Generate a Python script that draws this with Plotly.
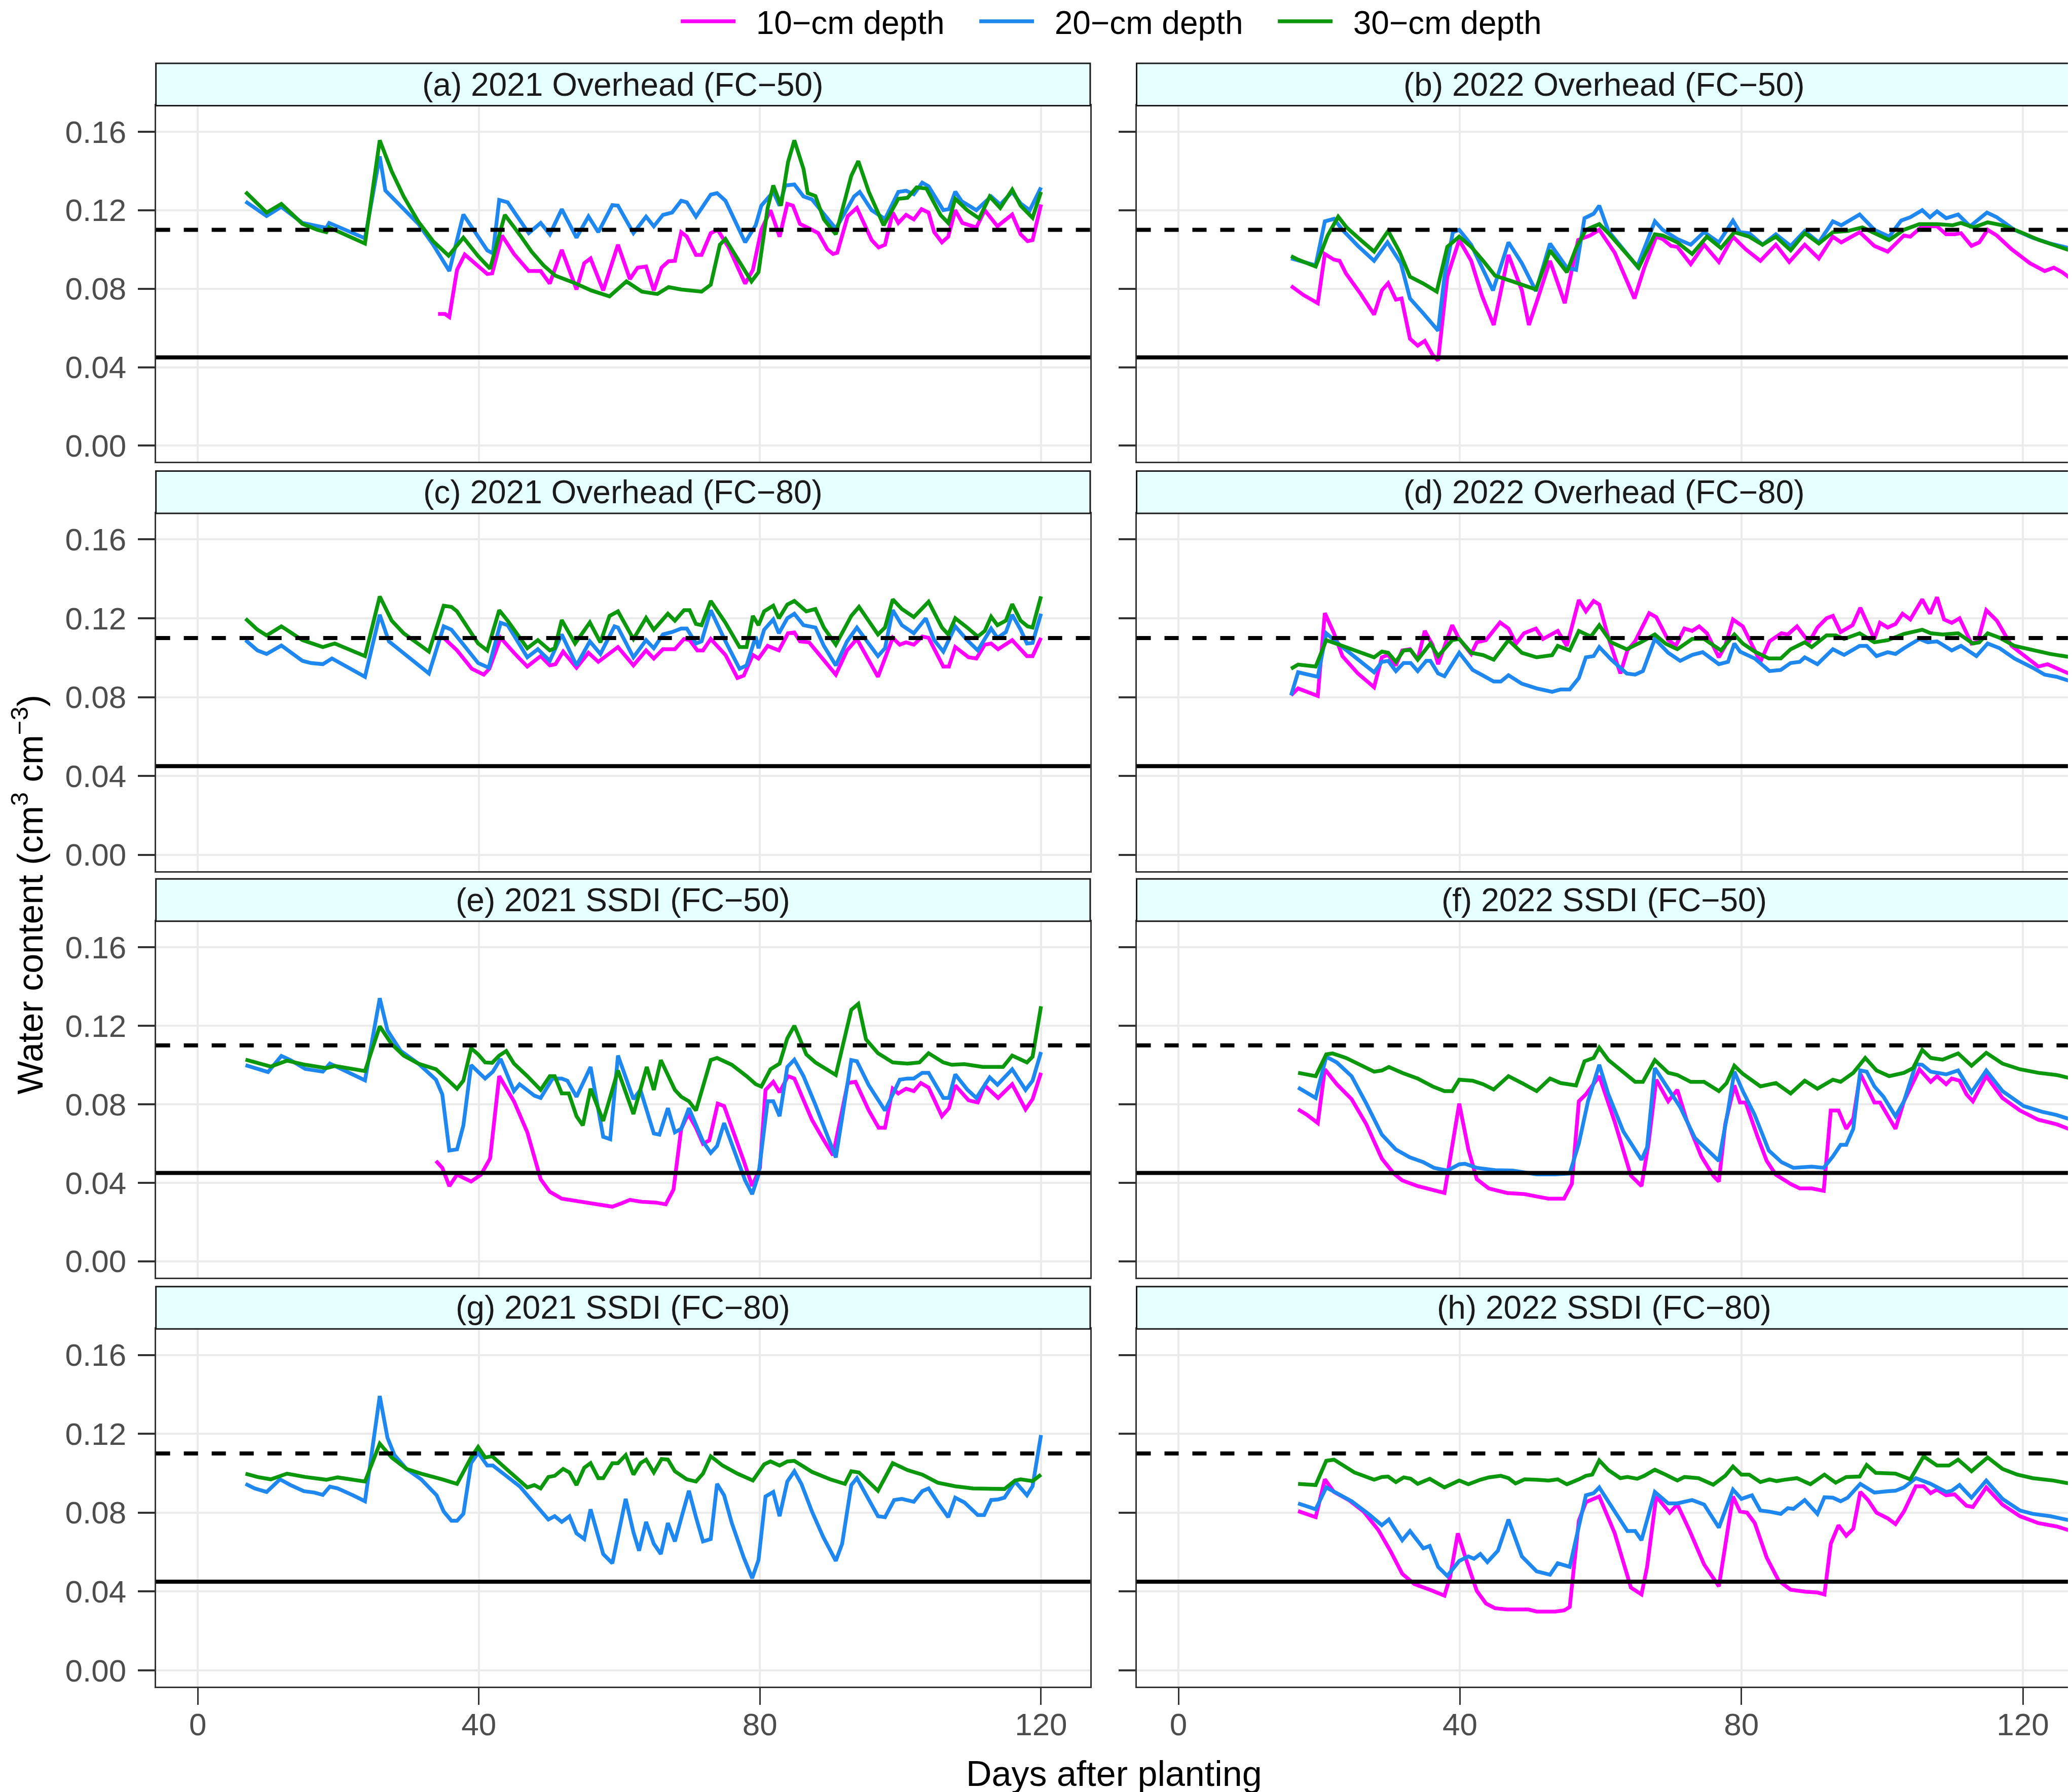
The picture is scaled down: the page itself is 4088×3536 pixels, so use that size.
import plotly.graph_objects as go
from plotly.subplots import make_subplots

# ---- data (days after planting, water content cm3/cm3) ----
FC_LEVEL = 0.11     # dashed line
MAD_LEVEL = 0.045   # solid line

# (a) 2021 Overhead (FC-50)
a_day10 = [34.2,35.2,35.8,36.9,38,39.5,41.2,41.9,43.3,45,47.1,48.8,50.1,51.8,53.9,55,55.9,57.7,59.8,61.5,62.6,63.8,64.9,66,67,67.9,68.8,69.6,70.9,71.7,73,74,75.6,77.9,79,80.2,81.5,82.8,83.9,84.7,85.7,87.4,88.3,89.6,90.4,91,92.5,93.8,95.9,96.9,97.8,98.9,99.7,100.8,101.9,103,104,104.8,105.9,106.8,107.8,108.8,110.8,112,113.8,115.9,117.1,118.1,118.8,120]
a_wc10 = [.0671,.0671,.0656,.0896,.0974,.0925,.0875,.0878,.1071,.0977,.089,.089,.0826,.0998,.0796,.093,.0954,.0791,.1024,.0849,.0907,.0913,.0791,.0907,.094,.0942,.1088,.1065,.0972,.0972,.1083,.11,.1007,.0826,.0896,.11,.12,.1065,.1232,.1223,.113,.11,.1083,.1001,.0977,.0983,.117,.1211,.1048,.101,.1024,.1188,.1135,.1176,.1153,.1205,.1188,.1088,.1036,.1065,.12,.1135,.1112,.12,.1118,.1178,.1077,.1042,.1048,.1229]
a_day20 = [6.8,9.8,11.9,14.9,18.3,18.7,23.8,25.9,26.7,28.9,31.4,33.5,35.8,37.8,39.9,41.2,42,42.9,44.1,47.1,48.8,50.1,51.8,53.9,55.6,57,59,59.8,62,63.8,64.9,66.2,67.5,68.8,69.6,70.9,73,73.9,75.1,77.9,79.4,80.2,81.9,82.8,83.6,84.9,86.2,87.4,90.8,93.4,94.2,95.9,97.8,99.7,100.8,101.9,103.1,104,106.1,106.9,107.8,108.7,110.8,112,112.9,114.2,115.9,117.1,118.4,120]
a_wc20 = [.1244,.117,.1217,.1135,.111,.1135,.1057,.1474,.130,.122,.113,.1024,.089,.1178,.106,.0995,.098,.1252,.124,.1083,.1135,.1077,.1205,.106,.1168,.1088,.1226,.1223,.1083,.1167,.1118,.1176,.1188,.1248,.124,.1167,.1279,.1287,.1248,.1036,.1123,.1223,.1293,.1223,.1326,.1331,.127,.1255,.1106,.127,.1293,.12,.1155,.1293,.1299,.1281,.134,.1322,.12,.1205,.1295,.1246,.12,.124,.127,.1229,.1293,.1234,.12,.1316]
a_day30 = [6.8,9.8,11.9,14.9,17,18.3,18.7,23.8,25.9,27.6,29.3,31.4,33.5,35.7,37.8,39.9,41.6,43.7,45.9,47.5,49.2,50.9,53.5,56,58.6,61,63.2,65.4,67,68.8,71.7,73,74.3,75.1,76.4,78.8,79.8,81.1,81.9,83,84,84.9,86.2,86.8,87.9,89.1,90.8,93,94,95.5,97.6,99.7,101,102.3,103.7,105.7,106.8,107.8,109.5,111.2,112.7,114.2,115.9,117.1,118.8,120]
a_wc30 = [.1293,.1188,.1232,.113,.110,.1088,.1112,.103,.1556,.1398,.127,.1141,.1042,.0968,.106,.0966,.0902,.1176,.1071,.0989,.0919,.0866,.0831,.0791,.0761,.0837,.0785,.0773,.0808,.0796,.0785,.082,.1024,.1053,.0977,.0837,.0884,.1211,.1326,.1223,.1445,.1556,.141,.1287,.1272,.1153,.1077,.1375,.145,.1293,.1123,.1258,.1263,.1316,.131,.1176,.1135,.1258,.12,.1158,.127,.1211,.1305,.1223,.1161,.1293]

# (b) 2022 Overhead (FC-50)
b_day10 = [16,17.8,19.8,20.8,22.1,22.9,23.8,25.9,27.8,28.9,29.8,30.9,31.7,32.9,34,35,36.1,36.9,38.2,39.9,41.6,43.1,44.8,46.9,48.8,49.8,50.9,52.8,54.9,56.8,58.5,59.8,62,64.8,66.2,67.9,68.8,70,70.9,72.8,74.7,76.8,78.8,80.6,82.7,84.9,86.8,89,91,93,94.2,96.8,98.9,100.8,103.1,104,105.7,107.8,109.1,110.3,111.2,112.7,113.8,115,116.3,118.4,121,123.1,124.4,125.6,126.9]
b_wc10 = [.0814,.0767,.0726,.0977,.0948,.0942,.0878,.0773,.0668,.0791,.0828,.0744,.075,.0545,.051,.0534,.0464,.0434,.0861,.1048,.0942,.0767,.0615,.0972,.0791,.0615,.0732,.0942,.0726,.1048,.1071,.11,.0983,.075,.0907,.1065,.1053,.1018,.1013,.0925,.1024,.0936,.1065,.1001,.0942,.1024,.0936,.1024,.0954,.1065,.1036,.1088,.1018,.0989,.1071,.1065,.1118,.1118,.1077,.1077,.1083,.1018,.1036,.11,.1071,.1001,.093,.089,.0907,.0884,.0849]
b_day20 = [16,19.5,20.8,22.1,23.3,25.5,27.8,29.7,31.6,32.9,34.8,36.5,36.9,37.8,39,39.9,41.6,43.3,44.7,46.9,48.8,50.8,52.8,55.2,56.5,57.7,59,59.8,61.1,65.2,67.7,68.8,70.9,72.8,74.7,76.8,78.8,79.8,81.1,83,84.9,87,89,91,93,94.2,96.8,98.9,101,102.7,104,105.7,106.8,107.8,109.1,110.8,112.5,114.9,116.3,118.8,121.4,123.9,126.5]
b_wc20 = [.0954,.0919,.1143,.1156,.11,.1018,.0942,.1036,.093,.075,.0674,.0604,.0586,.0861,.1088,.11,.1024,.0896,.0791,.1036,.093,.0788,.103,.0907,.0896,.1159,.1182,.1223,.1094,.0913,.1143,.11,.1053,.1024,.1088,.1036,.1147,.1088,.1083,.1024,.1077,.1018,.1094,.1036,.1143,.1123,.1178,.11,.1065,.1147,.1164,.12,.1164,.1194,.1159,.1178,.1118,.1188,.1164,.11,.1059,.103,.1007]
b_day30 = [16,17,19.5,21.2,22.7,23.9,25.9,27.8,29.8,31.4,32.9,34.8,36.7,38.2,39.9,41.6,43.3,45,47.5,50.8,52.8,55.2,56.5,57.9,59.8,61.1,65.4,67.7,68.8,70.9,73,75.1,77.1,79,81.1,83,84.9,87,89,91,93,95.1,97.2,98.9,101,103.1,105.3,107.8,110,111.2,113,115,117.1,119.7,122.3,124.8,126.7]
b_wc30 = [.0966,.0948,.0913,.1071,.1167,.1112,.1048,.0989,.1094,.0989,.0861,.0826,.0785,.1013,.1065,.1013,.0942,.0866,.0837,.0796,.0995,.0884,.1007,.11,.1129,.1083,.0907,.1077,.1071,.1036,.0977,.1065,.1007,.1088,.1065,.1024,.1065,.0995,.1083,.103,.1088,.1094,.1112,.1083,.1048,.11,.1129,.1129,.1123,.1135,.1112,.1138,.1123,.1088,.1048,.1018,.0995]

# (c) 2021 Overhead (FC-80)
c_day10 = [35,36.9,39,40.7,41.5,43.1,45,46.9,48.8,50.1,50.9,52,53.9,55.6,57,58.6,59.8,62,63.8,64.9,66.2,67.9,69.2,70,71.1,71.9,73,75.1,76.8,77.7,79,79.8,81.1,82.7,84,84.9,85.7,87,89,90.8,92.4,93.8,96.8,98.9,99.9,100.8,101.9,103.1,104,106.1,106.9,107.8,109.7,110.8,112,112.9,113.9,115.9,118,118.8,120]
c_wc10 = [.1101,.1037,.0944,.0914,.0944,.1101,.1025,.0955,.1008,.0961,.0967,.1031,.0949,.1025,.0979,.1019,.1054,.0961,.1037,.0996,.1043,.1043,.1095,.1089,.1037,.1037,.1095,.1014,.0897,.0909,.1014,.0996,.106,.1037,.1124,.1128,.1083,.1078,.099,.0914,.1037,.1095,.0903,.1101,.1066,.1078,.1066,.1107,.1101,.0955,.0955,.1054,.1002,.0996,.1066,.1072,.1043,.1089,.1008,.1008,.1101]
c_day20 = [6.8,8.5,9.8,11.9,14.9,16.1,17.8,19.1,23.8,25.9,27.2,29.3,32.9,35,36.1,39.9,41.4,43.1,44.1,46.9,48.4,50.1,51.8,53.9,55.8,57.3,59.3,59.8,62,63.8,64.9,66.2,67.5,68.8,69.6,70.9,71.7,73,75.1,77.1,78.1,79.4,79.8,80.6,81.9,82.7,83.9,84.9,86.2,87.9,89.1,90.8,92.4,93.8,96.8,97.8,98.9,100.2,101.9,103.6,104.8,106.1,107.8,109.5,111,112.9,113.8,115,115.9,117.1,118,118.8,120]
c_wc20 = [.1089,.1037,.1019,.1062,.0984,.0973,.0967,.0996,.0903,.1218,.1083,.1025,.092,.1159,.1142,.0973,.0949,.1177,.1165,.1002,.1043,.0984,.1118,.0961,.1083,.1019,.1159,.1153,.1002,.1089,.1048,.1118,.113,.1148,.1148,.1072,.1083,.1241,.1083,.0944,.0961,.1107,.1048,.1142,.1194,.1124,.12,.1223,.1165,.1153,.106,.0961,.1083,.1153,.1008,.1048,.1241,.1165,.1124,.12,.1089,.1031,.1159,.1089,.1037,.1148,.1101,.113,.1218,.1142,.1072,.1075,.1223]
c_day30 = [6.8,8.5,9.8,11.9,14.9,16.6,17.8,19.5,23.8,25.9,27.6,29.3,31.4,32.9,35,36.1,36.9,39.9,41.2,42.9,44.1,46.9,48.4,50.1,50.8,51.8,53.7,55.8,57.3,58.6,59.8,62,63.8,64.9,66.9,67.9,69.2,70,70.9,71.7,73,75.1,77.1,78.1,79,79.8,80.6,81.9,82.7,83.9,84.9,86.6,87.9,89.1,90.8,93,94.1,96.8,97.8,98.9,100.2,101.9,104,105.9,106.8,107.8,109.5,111,112,112.9,113.8,115,115.9,117.1,118.1,118.8,120]
c_wc30 = [.1198,.1142,.1113,.1159,.1089,.1066,.1054,.1072,.1008,.1311,.1188,.1124,.1072,.1031,.1264,.1258,.1235,.1072,.1037,.1241,.1188,.1048,.1089,.1037,.1048,.1191,.1072,.1179,.1078,.1212,.1235,.1095,.1202,.1142,.1223,.1188,.1241,.1241,.1171,.1165,.1288,.1177,.1054,.1054,.1212,.1165,.1235,.1264,.12,.127,.1288,.1235,.1247,.1153,.1066,.1212,.1258,.1118,.1153,.1296,.1247,.1206,.1284,.1153,.1118,.12,.1153,.1107,.1136,.1208,.1165,.1188,.1272,.1188,.1159,.1153,.1311]

# (d) 2022 Overhead (FC-80)
d_day10 = [16,17,19.8,20.8,22.1,23.3,25.5,27.8,28.9,29.8,30.9,31.8,32.9,34,35,36.1,36.9,38.9,39.9,41.6,42.4,43.7,45.7,46.9,48,49.1,50.8,51.8,53.9,55.2,56.9,57.9,59,59.8,61.1,62.8,63.8,64.9,66.9,67.9,69.6,70.7,71.9,73,74,75.1,76.8,77.7,78.8,80.2,82.7,84,85.7,86.6,87.9,89.6,90.8,92.1,93,94.1,95.8,96.9,98.9,99.7,100.8,101.9,102.9,104,105.7,106.8,107.8,108.8,109.9,111,112.7,113.6,114.8,116.3,118.4,120.5,122.2,123.5,125.2,126.9]
d_wc10 = [.0809,.0844,.0806,.1226,.1124,.1008,.092,.085,.1002,.1014,.0961,.1037,.1043,.099,.1136,.1066,.0967,.1165,.1095,.1019,.1078,.1089,.1179,.1148,.1072,.1124,.1148,.1095,.1136,.106,.1293,.1235,.1288,.127,.1101,.092,.1037,.1083,.1226,.1206,.1089,.1062,.1148,.1136,.1159,.1124,.1002,.106,.1194,.1159,.0979,.1083,.1124,.1118,.1159,.1078,.1153,.12,.1212,.113,.1165,.1253,.1095,.1177,.1153,.1171,.1223,.1194,.1296,.1223,.1307,.1194,.1177,.12,.1072,.1083,.1241,.1188,.106,.1002,.0955,.0967,.0938,.0914]
d_day20 = [16,17,19.8,21,23.3,25.5,27.8,28.9,29.8,30.9,32,33,34,35.2,35.8,36.9,37.8,39.9,41.8,43.3,44.8,45.8,46.9,48.8,50.9,53.1,54.3,55.6,56.9,57.9,59,59.8,61.5,63.7,64.9,66,67.7,69.6,71.3,73,74.5,76.8,78.1,79,79.8,81.9,84,85.6,87,88.3,89,90.8,93,94.6,96.8,97.8,99.2,100.8,101.9,103.1,105.3,106.5,107.8,109.9,111.2,113.4,115,116.7,118.8,121.4,123.1,124.8,126.9]
d_wc20 = [.0809,.0926,.0903,.1124,.1054,.099,.0926,.0979,.0984,.0932,.0973,.0973,.0932,.0984,.0984,.092,.0906,.1025,.0938,.0909,.0879,.0879,.0911,.0868,.0844,.0827,.0839,.0839,.0897,.1002,.1008,.1054,.099,.092,.0914,.0932,.1095,.1025,.0984,.1014,.1028,.0967,.0979,.1072,.1031,.0996,.0932,.0938,.0973,.0979,.1002,.0967,.1043,.1014,.106,.106,.1008,.1028,.1019,.1048,.1095,.1078,.1083,.1037,.106,.1008,.1072,.1048,.0996,.0949,.0914,.0903,.0879]
d_day30 = [16,17,19.5,21,23.3,25.5,27.8,28.9,29.8,30.9,32,33,34,35.8,36.9,38.9,39.9,41.6,43.3,44.8,46.9,48.8,50.9,53.1,53.9,55.6,56.9,58.6,59.8,61.5,63.7,65.7,67.7,69.2,70.9,73,74.7,77.1,79,80.2,81.9,83.9,85.6,87,89,90,92.1,93.4,94.6,96.8,98.9,100.8,103.1,105.7,106.9,108.6,110.8,112.9,113.8,115,116.7,118.8,121.4,123.9,126.9]
d_wc30 = [.0944,.0965,.0955,.1089,.106,.1031,.1002,.1031,.1025,.0979,.1037,.1039,.099,.1072,.1008,.1089,.1095,.1025,.1013,.099,.1089,.1025,.1002,.1013,.106,.1037,.1136,.1107,.1165,.1078,.1043,.1078,.1118,.1072,.1043,.1095,.1095,.1037,.1118,.1072,.1031,.0996,.0996,.1043,.1078,.1054,.1113,.1113,.1095,.1124,.1078,.1089,.1121,.1142,.1124,.1118,.1124,.1072,.1078,.1124,.1101,.106,.1037,.1019,.1002]

# (e) 2021 SSDI (FC-50)
e_day10 = [33.9,34.8,35.8,36.9,38.9,40.3,41.6,42.9,45,46.9,48.8,50.1,51.8,53.9,56,57.3,59,60.3,61.5,63.2,65.2,66.6,67.7,68.8,69.8,70.9,71.9,72.8,74,74.9,76.4,77.7,78.9,80,80.8,81.9,82.8,84,84.9,87.4,89,90.4,92.5,93.6,95.5,96.9,97.8,98.9,99.7,100.8,101.9,102.9,104,105.9,106.9,107.8,109.7,111,112,113.9,115.9,117.8,118.8,120]
e_wc10 = [.0511,.0476,.0383,.0441,.0406,.0441,.0523,.0943,.0815,.0657,.0418,.0354,.0319,.0307,.0295,.0292,.0278,.0295,.0313,.0303,.0299,.029,.0365,.0675,.075,.068,.0599,.0616,.0803,.0791,.0645,.0511,.0383,.0476,.0873,.0914,.0861,.0943,.0931,.0721,.0622,.054,.0908,.0914,.0768,.068,.068,.0879,.0855,.0879,.0867,.0908,.0885,.0739,.078,.0896,.082,.0809,.0896,.0832,.0902,.0774,.0826,.096]
e_day20 = [6.8,8.5,10,11.9,13.2,15.3,17.8,18.8,21.2,23.8,25.9,27,28.9,31.4,33.9,34.8,35.8,36.9,37.8,38.9,40.9,42,43.1,45,45.8,47.9,48.8,50.5,51.8,52.6,53.9,55.9,57.7,58.7,59.8,62,63,64.9,65.7,66.9,67.9,68.8,69.9,71.9,73,73.9,74.9,76.8,77.9,78.9,79.8,81.1,81.9,82.8,83.9,84.9,86.2,87.9,90.8,93,93.8,95.5,97.8,99.9,101,101.9,103.1,104,106.1,106.9,107.8,109.5,110.8,112.7,113.8,115.9,117.8,118.8,120]
e_wc20 = [.0999,.0978,.0964,.1046,.1025,.098,.0966,.1007,.0966,.0922,.134,.1176,.1071,.1007,.0925,.085,.0564,.057,.0692,.0999,.0931,.0966,.1031,.0867,.0902,.0844,.0832,.0931,.0931,.092,.0838,.099,.0634,.0622,.1048,.0826,.0873,.0651,.0645,.078,.0657,.0675,.078,.061,.0552,.0587,.0704,.0511,.0412,.0342,.0441,.0815,.0815,.0739,.099,.1027,.0943,.0797,.0529,.1025,.1019,.0896,.0768,.0925,.0931,.0931,.096,.096,.0832,.0832,.0952,.0875,.0832,.0937,.0899,.0978,.0873,.092,.1066]
e_day30 = [6.8,8.5,10.4,12.7,15.3,18.3,19.5,23.8,25.9,27.6,29.3,31.4,33.9,35.7,36.9,37.8,38.9,39.9,40.9,41.9,42.9,43.9,45,46.9,48.8,50.1,50.8,51.8,52.8,53.9,54.8,55.9,57.7,59.8,62,63.9,64.9,65.9,67.9,68.8,69.9,70.9,73,73.9,76,78.1,79.4,80.2,81.5,82.8,83.9,84.9,86.6,87.9,90.8,93,94,95.1,96.8,98.9,101,102.7,104,106.1,107.3,109.1,111.7,114.6,115.9,118,118.8,120]
e_wc30 = [.1027,.1011,.0992,.1022,.1001,.0984,.0995,.0969,.1197,.1106,.1048,.1007,.0978,.092,.0879,.092,.1085,.1054,.1013,.1011,.1048,.1071,.1007,.0943,.0873,.0943,.0943,.0855,.0855,.0739,.0692,.0879,.0715,.0972,.075,.099,.0873,.1025,.0873,.0838,.0815,.0768,.1025,.1036,.1001,.0943,.0902,.089,.0978,.1007,.1136,.12,.1054,.1013,.0949,.1281,.1311,.113,.106,.1013,.1007,.1013,.106,.1013,.1001,.1004,.099,.099,.1048,.1013,.1042,.1299]

# (f) 2022 SSDI (FC-50)
f_day10 = [17,18.3,19.8,20.8,22.5,24.6,26.7,28.9,30.6,31.8,34,36.1,37.8,39.9,41.2,42.4,44.1,46.7,49.2,50.9,52.6,54.8,55.9,56.9,57.9,59.8,62,64.3,65.8,66.8,67.9,69.6,70.9,72.2,74.3,76,76.8,77.7,79,79.8,80.6,82.3,83.6,84.9,87,88.3,90,91.7,92.7,93.8,94.9,95.9,96.9,98.9,99.7,101.9,103.1,105.3,106.9,107.8,109.1,109.9,111,112,112.9,114.8,117.1,119.6,122.2,124.8,126.9]
f_wc10 = [.0774,.0745,.0704,.0978,.0902,.0826,.0698,.0523,.0447,.0412,.0383,.0365,.0348,.0803,.0569,.0418,.0371,.0348,.0342,.033,.0319,.0319,.0394,.0815,.085,.0943,.071,.0436,.0383,.06,.0925,.0815,.0873,.0721,.0535,.0436,.0406,.0698,.0896,.0809,.0809,.0634,.0511,.0441,.0394,.0371,.0371,.0359,.0768,.0768,.0675,.0727,.0955,.0809,.0809,.0675,.0815,.0978,.0914,.0943,.0902,.0931,.092,.085,.0815,.0943,.0832,.0768,.0721,.0698,.0669]
f_day20 = [17,19.5,21,22.5,24.6,26.7,28.9,30.9,32.9,34.8,36.3,38.2,39.9,40.7,42.4,45,47.5,50.9,53.5,55.6,56.9,58.2,59.8,61.1,63.2,65.8,66.6,67.7,69.6,71.3,73.4,76.8,78.1,79,80.2,81.9,83.9,85.7,87.4,89,90,91.7,93,94.1,94.9,95.9,96.9,97.8,98.9,100.2,101.9,103.1,104.8,105.7,106.9,109.1,110.8,112.7,114.8,117.1,120.1,122.7,124.8,126.9]
f_wc20 = [.0885,.0832,.1042,.1013,.0943,.0803,.0645,.0569,.0529,.0505,.0476,.0462,.0494,.0497,.0476,.0464,.0462,.0443,.0443,.0447,.06,.0815,.1001,.085,.0663,.0517,.0581,.0984,.0879,.0785,.0628,.0511,.0768,.0966,.0867,.0745,.0564,.0505,.0476,.0478,.0482,.0476,.0534,.0593,.0593,.0675,.0972,.0966,.0891,.0838,.0739,.0815,.1004,.1001,.0966,.0952,.0972,.0861,.0972,.0867,.0791,.0762,.0745,.0721]
f_day30 = [17,19.5,21,21.9,23.8,25.9,27.8,28.9,29.9,31.8,34,36.1,37.8,38.9,39.9,41.8,43.3,44.8,46.9,48.8,50.9,52.8,54.3,56.5,57.7,59,59.8,61.1,63.2,64.9,66,67.7,69.6,70.9,72.8,74.7,76.8,77.9,79,80.2,82.7,84.9,87,89,90.8,93,94.1,95.9,97.6,99.2,101,103.1,104.4,105.7,106.9,108.6,110.8,112.7,114.8,117.1,119.6,122.2,124.8,126.9]
f_wc30 = [.096,.0943,.1054,.1059,.1036,.1001,.0966,.0972,.099,.096,.0931,.0891,.0867,.0867,.0925,.092,.0902,.0875,.0943,.0908,.0867,.0931,.0908,.0896,.1019,.1036,.1089,.1025,.0966,.0914,.0914,.1025,.096,.0949,.0914,.0914,.0867,.0908,.0996,.0955,.0891,.0908,.0855,.092,.0879,.0925,.0914,.096,.1036,.0972,.0943,.096,.0984,.1077,.1036,.1027,.1059,.0996,.1062,.1007,.0978,.096,.0949,.0931]

# (g) 2021 SSDI (FC-80) - no 10-cm record
g_day20 = [6.8,8.1,9.8,11.7,13.2,15.1,16.6,17.8,18.8,19.9,22.1,23.8,25.9,27,28,29.7,31.8,34,35,36.1,36.9,37.8,38.9,39.9,41.2,42,44.1,45.8,47.9,49.9,50.8,51.8,52.9,53.9,55,55.9,57.7,59,60.9,62,62.8,63.8,64.9,65.9,66.9,67.9,68.8,69.9,70.9,71.9,73,73.9,74.9,76,77.7,78.9,79.8,80.8,81.9,82.8,83.9,84.9,85.9,87.4,89,90.8,91.7,93,93.8,95.5,96.8,97.8,99.1,100.2,101.9,103.1,104,105.3,106.8,107.8,109.1,111,111.9,112.9,113.9,114.8,116.3,118,118.8,120]
g_wc20 = [.0946,.0923,.0905,.0969,.094,.0909,.0902,.089,.0932,.0923,.0888,.0858,.1392,.118,.1092,.1022,.0969,.0888,.0806,.0759,.0759,.0794,.1051,.1104,.1039,.1039,.0981,.0934,.0847,.0765,.0782,.0753,.0782,.0695,.0666,.0817,.059,.0543,.087,.0701,.0607,.0753,.0642,.059,.0747,.0654,.0771,.0911,.0777,.0654,.0666,.0946,.0888,.0747,.0572,.0467,.056,.0882,.0905,.0782,.0958,.101,.0946,.0806,.0677,.0555,.0642,.094,.0975,.087,.0782,.0777,.0864,.087,.0855,.0909,.0923,.0852,.0777,.0876,.0852,.0788,.0788,.0864,.0867,.0876,.0958,.0888,.0934,.1194]
g_day30 = [6.8,8.5,10.4,12.7,15.3,18.3,19.9,23.8,25.9,27.6,29.7,31.8,34.8,36.9,38.9,39.9,40.9,41.9,44.1,46.9,47.9,48.8,49.9,50.8,52,52.9,53.9,55,55.9,57,57.7,59,59.8,60.9,62,63,63.8,64.9,66,66.9,67.9,69.6,70.9,71.9,73,74.7,76.8,79,80.6,81.5,82.8,83.9,84.9,87.4,90,92.1,93,94.1,96.8,98.9,101,103.1,105.3,107.8,110.3,112.5,114.8,116.3,117.1,118.8,120]
g_wc30 = [.0998,.0981,.0969,.0998,.0981,.0967,.0979,.0958,.115,.108,.1022,.0998,.0969,.0946,.108,.1133,.108,.1086,.1016,.0928,.094,.0923,.0981,.0987,.1022,.1004,.094,.1028,.1051,.0975,.0975,.1051,.1051,.1092,.0993,.1051,.1069,.1004,.1072,.1069,.101,.0969,.0958,.0998,.1086,.1039,.0998,.0963,.1045,.106,.1039,.106,.1063,.1007,.0969,.0946,.101,.1004,.0911,.1051,.1016,.0993,.0952,.0934,.0923,.092,.092,.0963,.0969,.096,.0993]

# (h) 2022 SSDI (FC-80)
h_day10 = [17,19.5,20.8,22.1,24.2,26.3,28.4,30.1,31.8,33.5,35.7,37.8,38.6,39.7,40.9,42.4,43.7,45,46.7,49.7,50.9,53.5,54.8,55.6,56.9,57.9,59.8,62,64.3,65.8,66.6,67.9,69.8,70.9,72.6,74.7,76.8,77.7,78.8,79.8,80.8,81.9,83.6,85.3,87,89.1,90.8,91.8,92.7,93.8,94.9,95.9,96.9,98,99.2,100.8,101.9,103.1,104.8,105.9,106.9,107.8,109.1,110.3,112,112.9,114.8,117.1,119.6,122.2,124.8,126.9]
h_wc10 = [.0808,.0777,.0969,.0905,.0864,.0806,.0712,.0607,.049,.0438,.0409,.0379,.0473,.0695,.056,.0403,.0339,.0315,.0309,.0309,.0298,.0298,.0304,.0321,.0759,.0853,.0882,.0695,.042,.0385,.0525,.0882,.08,.0841,.0712,.0537,.0426,.0631,.0882,.0806,.08,.0747,.0572,.0455,.0409,.0399,.0395,.0385,.0642,.0736,.0683,.0718,.0905,.0864,.08,.0771,.0742,.0806,.0934,.0934,.0899,.0917,.0888,.0893,.0835,.0829,.0928,.0841,.0782,.0747,.073,.0707]
h_day20 = [17,19.5,21,22.9,24.6,27,28.9,29.9,31.8,32.9,34.8,35.7,36.9,38.2,39.9,41.2,42,42.9,43.9,45.4,46.9,48.8,50.9,52.8,53.9,55.6,57.9,59,59.8,62,63.8,64.9,65.8,67.7,69.6,70.9,73,74.7,76.8,78.8,80,81.5,82.7,84,85.6,86.6,87.4,89,90.8,91.8,93,94.1,95.1,96.9,98.9,100.8,101.9,103.1,104.8,106.9,109.1,109.9,111,112.7,114.8,117.1,119.6,121.4,123.9,126.9]
h_wc20 = [.0847,.0817,.0928,.0893,.0858,.0794,.0736,.0765,.066,.0707,.0619,.0631,.0525,.0479,.0555,.0578,.0566,.059,.0549,.0607,.0765,.0578,.0502,.0485,.0543,.0525,.0888,.0899,.0928,.0806,.0707,.0707,.066,.0905,.0847,.0847,.0864,.0841,.0724,.0917,.087,.0888,.0811,.0805,.0794,.0823,.0819,.0864,.0794,.0878,.0876,.0858,.0876,.0946,.0902,.0909,.0911,.0928,.0975,.0946,.0905,.0911,.094,.0876,.0963,.087,.0811,.0794,.0782,.0759]
h_day30 = [17,19.5,21,22.1,25,27.8,28.9,29.8,30.9,32,33,34,35.7,37.8,39.9,41.2,42.9,44.1,45.8,46.9,47.9,49.2,50.8,52.6,53.9,55.2,56.9,57.9,58.8,59.8,61.1,62.8,63.8,65.2,66.2,67.7,69.2,70.9,71.9,73.9,76,77.7,78.8,80,81.1,82.7,84,85,86.1,87.9,89.8,91.8,93.4,94.9,96.8,97.8,99.1,100.8,101.9,104,105.9,107.8,109.5,110.8,112.7,115,117.1,119.2,121.4,124.3,126.9]
h_wc30 = [.0946,.094,.1063,.1069,.1004,.0967,.0981,.0983,.0955,.0979,.0972,.0946,.0972,.0928,.0963,.0944,.0967,.0979,.0987,.0975,.0948,.0969,.0967,.0963,.0969,.0944,.0969,.0987,.0993,.1065,.1016,.0975,.0981,.0972,.0987,.1018,.0993,.0963,.0981,.0975,.0942,.0987,.1034,.0993,.0993,.0955,.0969,.096,.0967,.0975,.0944,.0993,.0952,.0981,.0983,.1042,.1002,.0998,.0998,.0969,.1086,.1039,.1039,.1069,.101,.108,.1022,.0993,.0975,.0963,.0946]

DEPTHS = ["10\u2212cm depth", "20\u2212cm depth", "30\u2212cm depth"]
COLORS = ["#FF00FF", "#1E88F0", "#0C980C"]

# (title, row, col, [(days, wc) per depth or None])
PANELS = [
    ("(a) 2021 Overhead (FC\u221250)", 1, 1, [(a_day10, a_wc10), (a_day20, a_wc20), (a_day30, a_wc30)]),
    ("(b) 2022 Overhead (FC\u221250)", 1, 2, [(b_day10, b_wc10), (b_day20, b_wc20), (b_day30, b_wc30)]),
    ("(c) 2021 Overhead (FC\u221280)", 2, 1, [(c_day10, c_wc10), (c_day20, c_wc20), (c_day30, c_wc30)]),
    ("(d) 2022 Overhead (FC\u221280)", 2, 2, [(d_day10, d_wc10), (d_day20, d_wc20), (d_day30, d_wc30)]),
    ("(e) 2021 SSDI (FC\u221250)", 3, 1, [(e_day10, e_wc10), (e_day20, e_wc20), (e_day30, e_wc30)]),
    ("(f) 2022 SSDI (FC\u221250)", 3, 2, [(f_day10, f_wc10), (f_day20, f_wc20), (f_day30, f_wc30)]),
    ("(g) 2021 SSDI (FC\u221280)", 4, 1, [None, (g_day20, g_wc20), (g_day30, g_wc30)]),
    ("(h) 2022 SSDI (FC\u221280)", 4, 2, [(h_day10, h_wc10), (h_day20, h_wc20), (h_day30, h_wc30)]),
]

# ---- layout geometry (paper fractions) ----
COL_DOM = {1: [0.0733, 0.5242], 2: [0.5466, 0.9981]}
ROW_DOM = {1: [0.7445, 0.9433], 2: [0.5162, 0.7158], 3: [0.2894, 0.4882], 4: [0.0611, 0.2607]}
STRIP_H = 0.0236
FONT = "Liberation Sans, Arial, sans-serif"

fig = make_subplots(rows=4, cols=2)

for title, r, c, series in PANELS:
    for k, s in enumerate(series):
        if s is None:
            continue
        days, wc = s
        assert len(days) == len(wc), (title, k, len(days), len(wc))
        fig.add_trace(go.Scatter(
            x=days, y=wc, mode="lines", name="  " + DEPTHS[k],
            line=dict(color=COLORS[k], width=7.5),
            legendgroup=DEPTHS[k], showlegend=(r == 1 and c == 1),
        ), row=r, col=c)

    fig.add_hline(y=FC_LEVEL, line=dict(color="black", width=8, dash="28px,27px"),
                  layer="above", row=r, col=c)
    fig.add_hline(y=MAD_LEVEL, line=dict(color="black", width=8),
                  layer="above", row=r, col=c)

    # facet strip
    x0, x1 = COL_DOM[c]
    top = ROW_DOM[r][1]
    fig.add_shape(type="rect", xref="paper", yref="paper",
                  x0=x0, x1=x1, y0=top, y1=top + STRIP_H,
                  fillcolor="#E6FFFF", line=dict(color="#1A1A1A", width=3))
    fig.add_annotation(text=title, xref="paper", yref="paper",
                       x=(x0 + x1) / 2, y=top + STRIP_H / 2,
                       xanchor="center", yanchor="middle",
                       showarrow=False, font=dict(family=FONT, size=64, color="#1A1A1A"))

    fig.update_xaxes(
        domain=COL_DOM[c], range=[-5.95, 127], tickvals=[0, 40, 80, 120],
        showgrid=True, gridcolor="#EBEBEB", gridwidth=4, zeroline=False,
        showline=True, mirror=True, linecolor="#333333", linewidth=3,
        ticks="outside" if r == 4 else "", ticklen=33, tickwidth=3, tickcolor="#333333",
        showticklabels=(r == 4), ticklabelstandoff=-14,
        tickfont=dict(family=FONT, size=62, color="#4D4D4D"),
        row=r, col=c)
    fig.update_yaxes(
        domain=ROW_DOM[r], range=[-0.00825, 0.17325], tickvals=[0, 0.04, 0.08, 0.12, 0.16],
        tickformat=".2f",
        showgrid=True, gridcolor="#EBEBEB", gridwidth=4, zeroline=False,
        showline=True, mirror=True, linecolor="#333333", linewidth=3,
        ticks="outside", ticklen=33, tickwidth=4, tickcolor="#333333",
        showticklabels=(c == 1), ticklabelstandoff=10,
        tickfont=dict(family=FONT, size=62, color="#4D4D4D"),
        row=r, col=c)

fig.add_annotation(text="Water content (cm<sup>3</sup> cm<sup>\u22123</sup>)",
                   xref="paper", yref="paper", x=0.0115, y=0.503, textangle=-90,
                   xanchor="center", yanchor="middle",
                   showarrow=False, font=dict(family=FONT, size=70, color="black"))
fig.add_annotation(text="Days after planting", xref="paper", yref="paper",
                   x=0.5357, y=0.0125, xanchor="center", yanchor="middle",
                   showarrow=False, font=dict(family=FONT, size=70, color="black"))

fig.update_layout(
    width=4088, height=3536,
    margin=dict(l=0, r=0, t=0, b=0, autoexpand=False),
    paper_bgcolor="white", plot_bgcolor="white",
    font=dict(family=FONT, color="black"),
    legend=dict(orientation="h", x=0.5415, xanchor="center", y=1.004, yanchor="top",
                font=dict(family=FONT, size=64, color="black"),
                itemwidth=108, entrywidth=466, entrywidthmode="pixels",
                bgcolor="rgba(0,0,0,0)"),
)

fig.write_html("out.html")
